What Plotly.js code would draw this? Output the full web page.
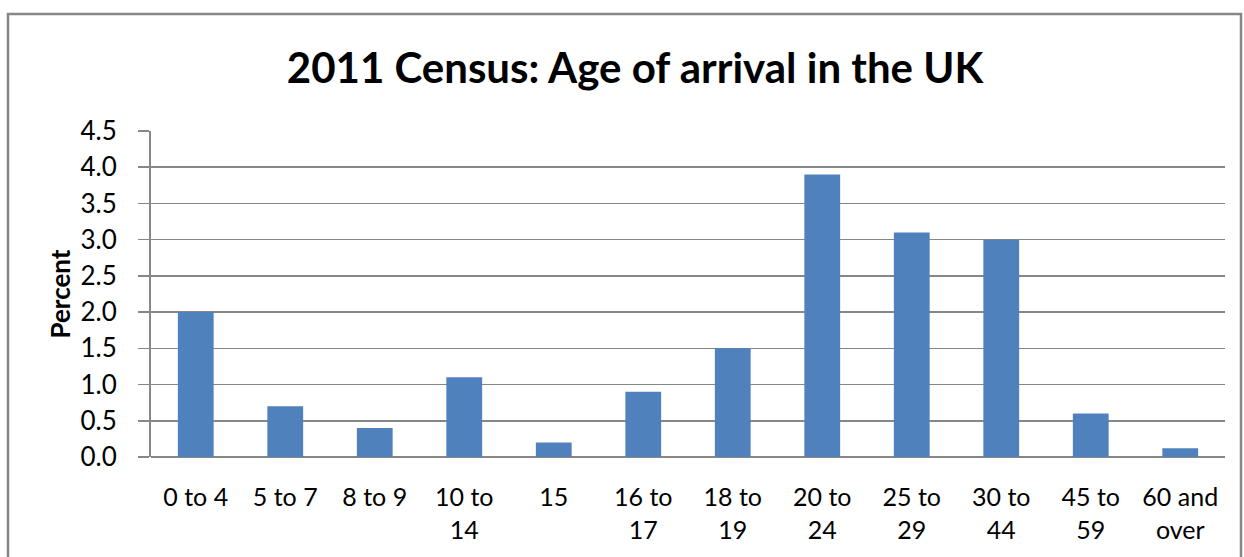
<!DOCTYPE html>
<html>
<head>
<meta charset="utf-8">
<script src="https://cdn.plot.ly/plotly-3.0.1.min.js"></script>
<style>html,body{margin:0;padding:0;background:#fff;}#chart{width:1244px;height:557px;}</style>
</head>
<body>
<div id="chart"></div>
<script>
const categories = ["0 to 4","5 to 7","8 to 9","10 to<br>14","15","16 to<br>17","18 to<br>19","20 to<br>24","25 to<br>29","30 to<br>44","45 to<br>59","60 and<br>over"];
const percentValues = [2.0, 0.7, 0.4, 1.1, 0.2, 0.9, 1.5, 3.9, 3.1, 3.0, 0.6, 0.12];
const yTickValues = [0,0.5,1,1.5,2,2.5,3,3.5,4,4.5];
const yTickLabels = ["0.0","0.5","1.0","1.5","2.0","2.5","3.0","3.5","4.0","4.5"];

const W = 1244, H = 557;
const mL = 151, mR = 19, mT = 131, mB = 100;
const pw = W - mL - mR, ph = H - mT - mB;
function px2x(p){ return (p - mL) / pw; }
function py2y(p){ return (H - mB - p) / ph; }

const trace = {
  type: 'bar',
  x: categories,
  y: percentValues,
  marker: {color: '#4F81BD'},
  hoverinfo: 'none'
};

const layout = {
  width: W, height: H,
  margin: {l: mL, r: mR, t: mT, b: mB, pad: 0},
  paper_bgcolor: '#ffffff',
  plot_bgcolor: '#ffffff',
  showlegend: false,
  bargap: 0.6,
  font: {family: 'Lato, "Open Sans", sans-serif', color: '#000000'},
  title: {
    text: '2011 Census: Age of arrival in the UK',
    font: {family: 'Lato, sans-serif', size: 42, color: '#000', weight: 'bold'},
    x: 635/1244, xanchor: 'center', xref: 'container',
    y: 1 - 68/557, yanchor: 'middle', yref: 'container'
  },
  xaxis: {
    type: 'category',
    showgrid: false,
    showline: false,
    ticks: '',
    tickfont: {size: 25, family: 'Lato, sans-serif', color: '#000'},
    ticklabelstandoff: 23,
    fixedrange: true
  },
  yaxis: {
    range: [0, 4.5],
    tickvals: yTickValues,
    ticktext: yTickLabels,
    showgrid: true,
    gridcolor: '#878787',
    gridwidth: 1.5,
    zeroline: true,
    zerolinecolor: '#878787',
    zerolinewidth: 1.5,
    showline: true,
    linecolor: '#878787',
    linewidth: 2,
    ticks: 'outside',
    ticklen: 11,
    tickcolor: '#878787',
    tickwidth: 1.5,
    ticklabelstandoff: 16,
    tickfont: {size: 26, family: 'Lato, sans-serif', color: '#000'},
    title: {text: 'Percent', font: {size: 26, family: 'Lato, sans-serif', color: '#000', weight: 'bold'}, standoff: 2},
    fixedrange: true
  },
  shapes: [{
    type: 'rect', xref: 'paper', yref: 'paper',
    x0: px2x(8), x1: px2x(1241), y0: py2y(570), y1: py2y(14),
    line: {color: '#878787', width: 2.5},
    fillcolor: 'rgba(0,0,0,0)',
    layer: 'below'
  }]
};

Plotly.newPlot('chart', [trace], layout, {displayModeBar: false, staticPlot: true});
</script>
</body>
</html>
